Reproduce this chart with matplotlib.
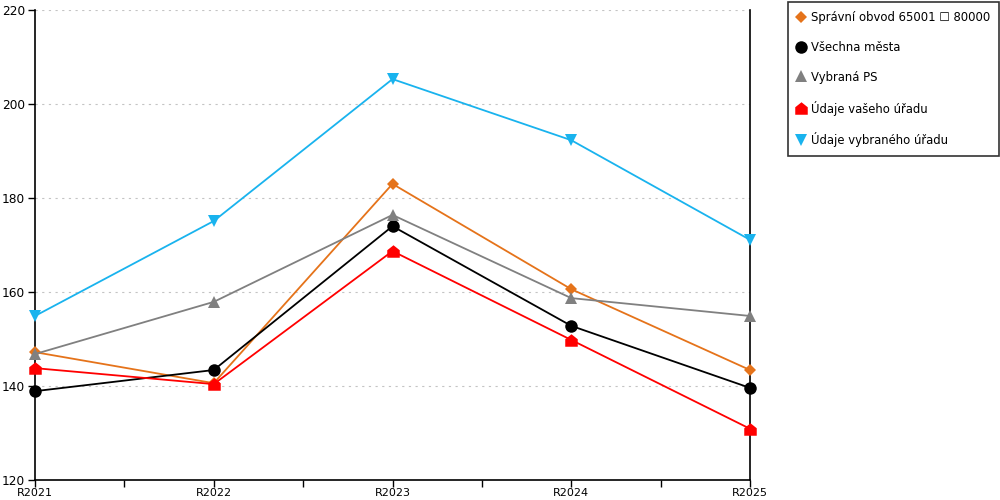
import matplotlib
matplotlib.use("Agg")
import matplotlib.pyplot as plt
from matplotlib.path import Path
from matplotlib.lines import Line2D

categories = ["R2021", "R2022", "R2023", "R2024", "R2025"]
spravni = [147.2, 140.6, 183.0, 160.6, 143.4]
vsechna = [138.9, 143.4, 174.0, 152.8, 139.6]
vybrana = [146.8, 157.9, 176.4, 158.7, 154.9]
vaseho = [143.8, 140.4, 168.7, 149.8, 130.9]
vybraneho = [154.9, 175.1, 205.3, 192.3, 171.1]
labels = ["Správní obvod 65001 ☐ 80000", "Všechna města", "Vybraná PS",
          "Údaje vašeho úřadu", "Údaje vybraného úřadu"]
colors = ["#E5731A", "#000000", "#808080", "#FF0000", "#19B3EE"]

house = Path([(-1, -1), (1, -1), (1, 0.2), (0, 1), (-1, 0.2), (-1, -1)],
             [Path.MOVETO, Path.LINETO, Path.LINETO, Path.LINETO, Path.LINETO, Path.CLOSEPOLY])
markers = ["D", "o", "^", house, "v"]
msizes = [6, 9, 8, 9, 8]
series = [spravni, vsechna, vybrana, vaseho, vybraneho]

plt.rcParams['font.family'] = ['DejaVu Sans']
fig = plt.figure(figsize=(10, 5), dpi=100)
ax = fig.add_axes([0.035, 0.04, 0.715, 0.94])
x = list(range(len(categories)))
for s, c, m, ms, lab in zip(series, colors, markers, msizes, labels):
    ax.plot(x, s, color=c, lw=1.3, marker=m, markersize=ms, markeredgewidth=0, label=lab,
            clip_on=False, zorder=3)

ax.set_xlim(0, 4)
ax.set_ylim(120, 220)
ax.set_yticks([120, 140, 160, 180, 200, 220])
ax.set_xticks(x)
ax.set_xticklabels(categories)
ax.set_xticks([0.5, 1.5, 2.5, 3.5], minor=True)
ax.tick_params(axis='x', which='both', length=5, width=1, direction='out', labelsize=8, pad=1)
ax.tick_params(axis='y', length=5, width=1, direction='out', labelsize=8.7, pad=2)
ax.grid(axis='y', color='#c4c4c4', linestyle=(0, (2, 4)), linewidth=0.8)
ax.spines['top'].set_visible(False)
for sp in ['left', 'right', 'bottom']:
    ax.spines[sp].set_linewidth(1.2)
    ax.spines[sp].set_color('black')

handles = [Line2D([], [], color=c, marker=m, markersize=ms, markeredgewidth=0, linestyle='None')
           for c, m, ms in zip(colors, markers, msizes)]
leg = fig.legend(handles, labels, loc='upper left', bbox_to_anchor=(0.788, 0.996),
                 frameon=True, fancybox=False, edgecolor='black', fontsize=8.4,
                 handlelength=0.8, handletextpad=0.4, labelspacing=1.45,
                 borderpad=0.75, borderaxespad=0)
leg.get_frame().set_linewidth(1.2)

fig.savefig("out.png", dpi=100)
